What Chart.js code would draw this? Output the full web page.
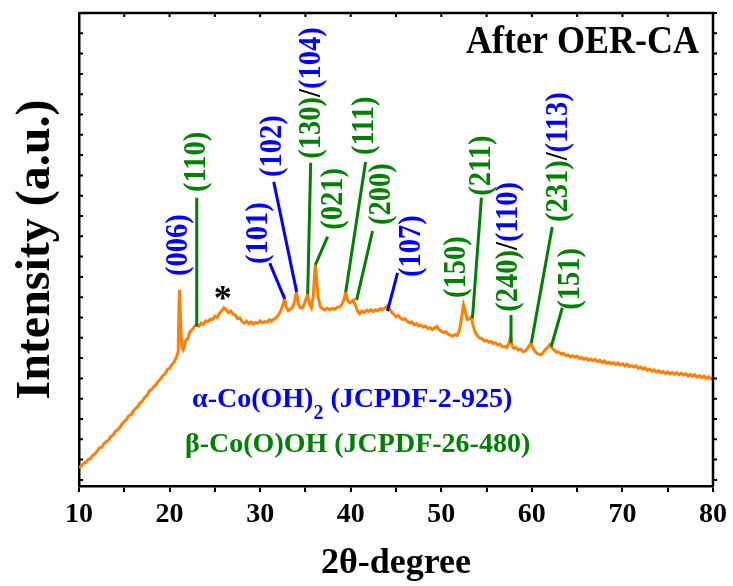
<!DOCTYPE html>
<html>
<head>
<meta charset="utf-8">
<script src="https://cdn.jsdelivr.net/npm/chart.js@4"></script>
<style>
  html, body { margin: 0; padding: 0; background: #fff; }
  #xrdChart { display: block; }
</style>
</head>
<body>
<canvas id="xrdChart" width="733" height="586"></canvas>
<script>
// XRD pattern, 2θ in degrees, intensity in arbitrary units
const twoTheta = [
  10.00, 10.25, 10.50, 10.75, 11.00, 11.25, 11.50, 11.75, 12.00, 12.25,
  12.50, 12.75, 13.00, 13.25, 13.50, 13.75, 14.00, 14.25, 14.50, 14.75,
  15.00, 15.25, 15.50, 15.75, 16.00, 16.25, 16.50, 16.75, 17.00, 17.25,
  17.50, 17.75, 18.00, 18.25, 18.50, 18.75, 19.00, 19.25, 19.50, 19.75,
  20.00, 20.25, 20.50, 20.75, 20.95, 21.05, 21.10, 21.20, 21.35, 21.50,
  21.75, 22.00, 22.25, 22.50, 22.75, 23.00, 23.25, 23.50, 23.75, 24.00,
  24.25, 24.50, 24.75, 25.00, 25.25, 25.50, 25.75, 26.00, 26.25, 26.50,
  26.75, 27.00, 27.25, 27.50, 27.75, 28.00, 28.25, 28.50, 28.75, 29.00,
  29.25, 29.50, 29.75, 30.00, 30.25, 30.50, 30.75, 31.00, 31.25, 31.50,
  31.75, 32.00, 32.25, 32.50, 32.70, 32.90, 33.10, 33.35, 33.60, 33.80,
  34.00, 34.20, 34.40, 34.60, 34.85, 35.05, 35.25, 35.45, 35.65, 35.85,
  36.05, 36.10, 36.25, 36.40, 36.65, 36.90, 37.15, 37.40, 37.70, 38.00,
  38.25, 38.50, 38.80, 39.05, 39.25, 39.45, 39.65, 39.90, 40.10, 40.30,
  40.50, 40.80, 41.00, 41.25, 41.50, 41.75, 42.00, 42.25, 42.50, 42.75,
  43.00, 43.25, 43.50, 43.75, 44.00, 44.10, 44.30, 44.55, 44.80, 45.00,
  45.25, 45.50, 45.75, 46.00, 46.25, 46.50, 46.75, 47.00, 47.25, 47.50,
  47.75, 48.00, 48.25, 48.50, 48.75, 49.00, 49.25, 49.50, 49.75, 50.00,
  50.25, 50.50, 50.75, 51.00, 51.25, 51.50, 51.75, 52.00, 52.20, 52.45,
  52.65, 52.85, 53.05, 53.30, 53.50, 53.70, 53.95, 54.20, 54.50, 54.75,
  55.00, 55.25, 55.50, 55.75, 56.00, 56.25, 56.50, 56.75, 57.00, 57.20,
  57.45, 57.65, 57.85, 58.00, 58.25, 58.50, 58.75, 59.00, 59.25, 59.50,
  59.75, 59.90, 60.10, 60.30, 60.55, 60.80, 61.00, 61.25, 61.50, 61.75,
  62.00, 62.25, 62.50, 62.75, 63.00, 63.25, 63.50, 63.75, 64.00, 64.25,
  64.50, 64.75, 65.00, 65.25, 65.50, 65.75, 66.00, 66.25, 66.50, 66.75,
  67.00, 67.25, 67.50, 67.75, 68.00, 68.25, 68.50, 68.75, 69.00, 69.25,
  69.50, 69.75, 70.00, 70.25, 70.50, 70.75, 71.00, 71.25, 71.50, 71.75,
  72.00, 72.25, 72.50, 72.75, 73.00, 73.25, 73.50, 73.75, 74.00, 74.25,
  74.50, 74.75, 75.00, 75.25, 75.50, 75.75, 76.00, 76.25, 76.50, 76.75,
  77.00, 77.25, 77.50, 77.75, 78.00, 78.25, 78.50, 78.75, 79.00, 79.25,
  79.50, 79.75, 80.00
];

const intensity = [
  3.0, 3.4, 4.1, 4.3, 5.0, 5.2, 6.0, 6.4, 7.1, 7.9,
  8.0, 8.9, 9.4, 9.8, 10.7, 11.0, 11.9, 12.3, 12.9, 13.8,
  14.4, 14.9, 15.8, 16.1, 17.0, 17.6, 18.1, 19.0, 19.4, 20.3,
  20.8, 21.9, 22.3, 23.0, 23.4, 24.3, 24.8, 25.7, 26.1, 27.2,
  27.5, 28.4, 29.0, 30.2, 31.5, 44.0, 46.8, 40.0, 32.5, 32.0,
  34.2, 34.8, 36.5, 37.0, 37.8, 38.4, 37.9, 38.6, 38.3, 39.2,
  39.0, 39.6, 39.5, 40.3, 40.0, 41.0, 41.6, 42.4, 41.9, 41.2,
  41.6, 40.9, 40.6, 39.7, 39.9, 39.0, 38.6, 39.1, 38.5, 38.9,
  38.4, 38.8, 38.6, 39.2, 38.7, 39.0, 38.8, 39.4, 39.1, 39.6,
  39.9, 40.6, 41.5, 43.0, 44.6, 42.5, 41.7, 42.0, 42.6, 44.0,
  46.3, 43.5, 42.4, 42.3, 43.2, 44.5, 45.8, 43.2, 42.4, 45.0,
  52.0, 53.0, 49.0, 45.0, 42.6, 42.2, 41.8, 42.3, 41.9, 42.3,
  42.0, 42.5, 42.6, 43.3, 44.5, 46.3, 44.2, 43.6, 43.9, 44.3,
  43.0, 41.4, 40.9, 41.6, 41.2, 41.8, 41.5, 41.9, 41.4, 41.9,
  41.7, 42.2, 41.9, 42.4, 42.6, 42.9, 42.0, 41.2, 40.7, 40.2,
  40.5, 39.8, 39.5, 39.7, 39.0, 38.7, 38.9, 38.2, 38.5, 37.9,
  38.1, 37.6, 37.9, 37.3, 37.5, 37.0, 37.4, 37.8, 37.0, 36.6,
  36.3, 36.5, 35.9, 35.7, 35.4, 35.8, 35.6, 36.8, 39.4, 43.1,
  41.5, 39.5, 39.6, 40.1, 38.2, 36.6, 35.6, 35.0, 34.8, 34.2,
  34.4, 33.9, 34.1, 33.6, 33.8, 33.2, 33.4, 32.8, 32.9, 32.6,
  33.5, 35.2, 33.0, 32.4, 32.6, 32.0, 32.2, 31.6, 31.7, 32.3,
  33.2, 33.7, 32.6, 31.8, 31.2, 30.9, 30.8, 31.4, 32.1, 32.6,
  33.3, 32.4, 31.9, 31.4, 31.5, 31.0, 31.2, 30.6, 30.8, 30.3,
  30.6, 30.2, 30.5, 29.9, 30.2, 29.7, 30.0, 29.5, 29.8, 29.4,
  29.7, 29.1, 29.5, 28.9, 29.3, 28.7, 29.0, 28.6, 28.9, 28.4,
  28.8, 28.3, 28.6, 28.1, 28.5, 27.9, 28.2, 27.8, 28.1, 27.5,
  27.8, 27.3, 27.6, 27.0, 27.3, 26.8, 27.1, 26.6, 26.9, 26.4,
  26.7, 26.2, 26.6, 26.1, 26.5, 26.0, 26.4, 25.9, 26.3, 25.8,
  26.1, 25.6, 26.0, 25.5, 25.9, 25.3, 25.7, 25.2, 25.6, 25.0,
  25.4, 24.9, 25.2
];

const xTicks = { min: 10, max: 80, step: 5 };
const yRange = { min: -1.5, max: 115, step: 5 };

const BLUE = '#0000ff';
const GREEN = '#008000';
const ORANGE = '#ff8000';
const SERIF = "'Liberation Serif', 'Times New Roman', serif";

// Miller indices, each as coloured pieces of one rotated label
const tagText = [
  [['(006)', BLUE]],
  [['(110)', GREEN]],
  [['(101)', BLUE]],
  [['(102)', BLUE]],
  [['(130)', GREEN], ['/', '#000'], ['(104)', BLUE]],
  [['(021)', GREEN]],
  [['(111)', GREEN]],
  [['(200)', GREEN]],
  [['(107)', BLUE]],
  [['(150)', GREEN]],
  [['(211)', GREEN]],
  [['(240)', GREEN], ['/', '#000'], ['(110)', BLUE]],
  [['(231)', GREEN], ['/', '#000'], ['(113)', BLUE]],
  [['(151)', GREEN]]
];

// leader line [x0, y0, x1, y1] from the peak up to the label, in data units
const tagLeaders = [
  null,
  [23.0, 37.7, 23.0, 69.5],
  [32.71, 44.6, 31.06, 53.4],
  [34.03, 46.3, 31.5, 73.4],
  [35.25, 45.8, 35.58, 78.1],
  [36.1, 53.0, 37.45, 59.9],
  [39.45, 46.3, 41.64, 78.3],
  [40.65, 44.3, 42.41, 61.3],
  [44.06, 41.6, 45.17, 51.0],
  null,
  [53.44, 39.8, 54.43, 69.5],
  [57.7, 33.7, 57.7, 40.6],
  [59.94, 33.7, 62.25, 62.3],
  [62.14, 32.8, 63.36, 42.4]
];

// foot of each rotated label (centre of the text line), in data units
const tagFeet = [
  [21.02, 50.2], [23.0, 70.9], [29.84, 53.2], [31.39, 74.6], [35.69, 79.1],
  [38.2, 61.6], [41.53, 80.0], [43.4, 62.8], [46.71, 50.0], [51.78, 44.8],
  [54.54, 70.0], [57.51, 41.4], [63.03, 63.5], [64.35, 41.9]
];

const starAt = [25.87, 42.4];

// rotated hkl label, slightly condensed along the reading direction
function drawTag(ctx, x0, y0, parts) {
  ctx.save();
  ctx.translate(x0, y0);
  ctx.rotate(-Math.PI / 2);
  ctx.scale(0.92, 1);
  ctx.font = `bold 31px ${SERIF}`;
  ctx.textBaseline = 'middle';
  ctx.textAlign = 'left';
  let dx = 0;
  parts.forEach(([text, color]) => {
    ctx.fillStyle = color;
    ctx.fillText(text, dx, 0);
    dx += ctx.measureText(text).width;
  });
  ctx.restore();
}

const xrdDecor = {
  id: 'xrdDecor',
  afterDatasetsDraw(chart) {
    const { ctx, chartArea: a, scales: { x, y } } = chart;
    ctx.save();

    // frame top/right and the small tick marks
    ctx.strokeStyle = '#000';
    ctx.lineWidth = 2.5;
    ctx.beginPath();
    ctx.moveTo(a.left, a.top);
    ctx.lineTo(a.right, a.top);
    ctx.lineTo(a.right, a.bottom);
    ctx.stroke();

    ctx.lineWidth = 2;
    ctx.beginPath();
    for (let v = xTicks.min; v <= xTicks.max; v += xTicks.step) {
      const px = x.getPixelForValue(v);
      ctx.moveTo(px, a.top);
      ctx.lineTo(px, a.top + 4);
    }
    for (let v = 0; v <= yRange.max; v += yRange.step) {
      const py = y.getPixelForValue(v);
      ctx.moveTo(a.left, py);
      ctx.lineTo(a.left + 4, py);
      ctx.moveTo(a.right, py);
      ctx.lineTo(a.right + 4, py);
    }
    ctx.stroke();

    // leader lines
    ctx.lineWidth = 3;
    ctx.lineCap = 'butt';
    tagLeaders.forEach((ld, i) => {
      if (!ld) return;
      ctx.strokeStyle = tagText[i][0][1];
      ctx.beginPath();
      ctx.moveTo(x.getPixelForValue(ld[0]), y.getPixelForValue(ld[1]));
      ctx.lineTo(x.getPixelForValue(ld[2]), y.getPixelForValue(ld[3]));
      ctx.stroke();
    });

    tagText.forEach((parts, i) => {
      const [fx, fy] = tagFeet[i];
      drawTag(ctx, x.getPixelForValue(fx), y.getPixelForValue(fy), parts);
    });

    // amorphous hump marker
    ctx.fillStyle = '#000';
    ctx.font = `bold 36px ${SERIF}`;
    ctx.textAlign = 'center';
    ctx.textBaseline = 'alphabetic';
    ctx.fillText('*', x.getPixelForValue(starAt[0]), y.getPixelForValue(starAt[1]) + 2);

    // sample name
    ctx.save();
    ctx.translate(a.right - 14, a.top + 40);
    ctx.scale(0.9, 1);
    ctx.font = `bold 40px ${SERIF}`;
    ctx.textAlign = 'right';
    ctx.fillText('After OER-CA', 0, 0);
    ctx.restore();

    // phase legend
    ctx.textAlign = 'left';
    ctx.font = `bold 28px ${SERIF}`;
    ctx.fillStyle = BLUE;
    let lx = a.left + 113;
    const ly = a.top + 394;
    ctx.fillText('α-Co(OH)', lx, ly);
    lx += ctx.measureText('α-Co(OH)').width;
    ctx.font = `bold 20px ${SERIF}`;
    ctx.fillText('2', lx, ly + 12);
    lx += ctx.measureText('2').width;
    ctx.font = `bold 28px ${SERIF}`;
    ctx.fillText(' (JCPDF-2-925)', lx, ly);

    ctx.fillStyle = GREEN;
    ctx.fillText('β-Co(O)OH (JCPDF-26-480)', a.left + 106, a.top + 439);

    ctx.restore();
  }
};

const ctx = document.getElementById('xrdChart').getContext('2d');

new Chart(ctx, {
  type: 'line',
  data: {
    datasets: [{
      label: 'After OER-CA',
      data: twoTheta.map((t, i) => ({ x: t, y: intensity[i] })),
      borderColor: ORANGE,
      borderWidth: 3,
      pointRadius: 0,
      tension: 0,
      fill: false
    }]
  },
  options: {
    responsive: false,
    animation: false,
    layout: { padding: { top: 13, right: 19, left: 0, bottom: 0 } },
    plugins: {
      legend: { display: false },
      tooltip: { enabled: false }
    },
    scales: {
      x: {
        type: 'linear',
        min: xTicks.min,
        max: xTicks.max,
        afterFit: (s) => { s.height = 100; },
        border: { display: true, color: '#000', width: 2.5 },
        grid: {
          display: true,
          drawOnChartArea: false,
          drawTicks: true,
          tickLength: 6,
          color: '#000',
          lineWidth: 2
        },
        ticks: {
          stepSize: xTicks.step,
          autoSkip: false,
          maxRotation: 0,
          padding: 6,
          color: '#000',
          font: { family: SERIF, size: 28, weight: 'bold' },
          callback: (v) => (v % 10 === 0 ? v : '')
        },
        title: {
          display: true,
          text: '2θ-degree',
          color: '#000',
          font: { family: SERIF, size: 36, weight: 'bold' },
          padding: { top: 0, bottom: 1 }
        }
      },
      y: {
        type: 'linear',
        min: yRange.min,
        max: yRange.max,
        afterFit: (s) => { s.width = 79; },
        border: { display: true, color: '#000', width: 2.5 },
        grid: { display: false },
        ticks: { display: false, stepSize: yRange.step },
        title: {
          display: true,
          text: 'Intensity (a.u.)',
          color: '#000',
          font: { family: SERIF, size: 48, weight: 'bold' },
          padding: { top: 8, bottom: 0 }
        }
      }
    }
  },
  plugins: [xrdDecor]
});
</script>
</body>
</html>
